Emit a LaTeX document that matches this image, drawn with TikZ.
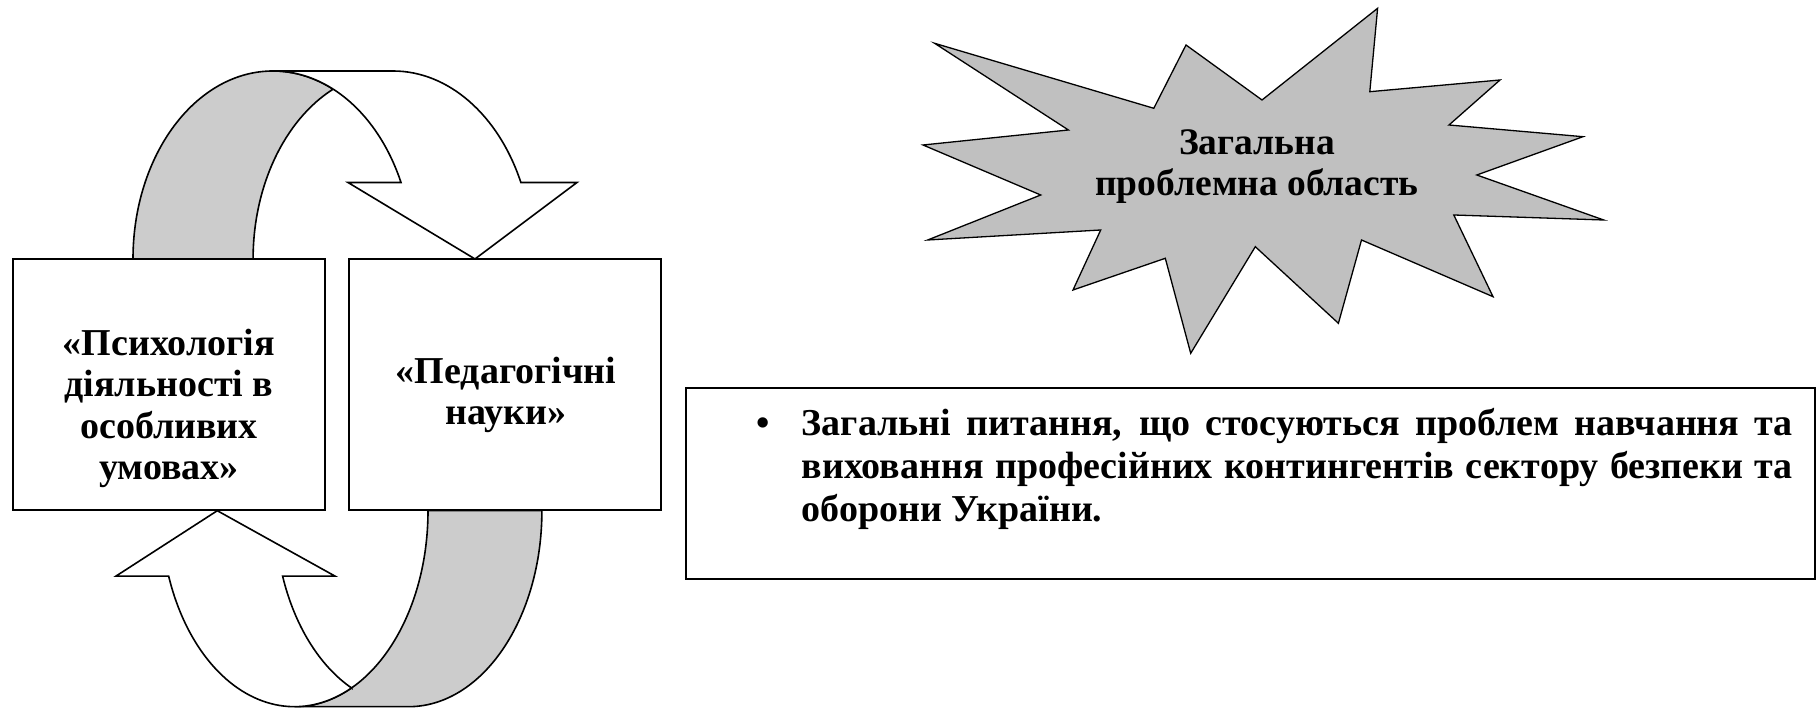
\documentclass[tikz,border=0pt]{standalone}
\usepackage{fontspec}
\setmainfont{Liberation Serif}
\definecolor{bandgray}{HTML}{CCCCCC}
\definecolor{stargray}{HTML}{C0C0C0}
\begin{document}
\begin{tikzpicture}[x=1pt,y=1pt,
  outline/.style={draw=black, line width=1.6pt, line join=miter},
  frame/.style={outline, fill=white, inner sep=0pt},
  boxtext/.style={font=\bfseries\fontsize{38}{41.5}\selectfont, align=center, inner sep=0pt},
  startext/.style={font=\bfseries\fontsize{37.5}{41.5}\selectfont, align=center, inner sep=0pt},
  bodytext/.style={font=\bfseries\fontsize{38}{43}\selectfont, inner sep=0pt}]
\useasboundingbox (0,0) rectangle (1818,709);

% ---- upper curved arrow (from left box to right box)
\path[outline, fill=bandgray] (133,450)
  arc[start angle=180, end angle=64.6, x radius=140, y radius=188]
  arc[start angle=115.4, end angle=180, x radius=140, y radius=188] -- cycle;
\path[outline, fill=white] (273,638) -- (393,638)
  arc[start angle=90, end angle=24, x radius=140, y radius=188]
  -- (577,526.5) -- (475,450) -- (348,526.5) -- (401,526.5)
  arc[start angle=24, end angle=90, x radius=140, y radius=188] -- cycle;

% ---- lower curved arrow (from right box to left box)
\path[outline, fill=bandgray] (541.9,198.3)
  arc[start angle=0, end angle=-90, x radius=133.5, y radius=196]
  -- (294.5,2.3)
  arc[start angle=-90, end angle=0, x radius=133.5, y radius=196] -- cycle;
\path[outline, fill=white] (351.76,21.25)
  arc[start angle=-64.6, end angle=-160.5, x radius=133.5, y radius=196]
  -- (116,132.9) -- (217.3,198.3) -- (335,132.9) -- (282.6,132.9)
  arc[start angle=-160.5, end angle=-115.1, x radius=133.5, y radius=196] -- cycle;

% ---- boxes
\node[frame, minimum width=312pt, minimum height=251pt] (psy) at (169,324.5) {};
\node[frame, minimum width=312pt, minimum height=251pt] (ped) at (505,324.5) {};
\node[boxtext, anchor=base] (psytext) at (169,229) {«Психологія\\діяльності в\\особливих\\умовах»};
\node[boxtext, anchor=base] (pedtext) at (506,284) {«Педагогічні\\науки»};

% ---- starburst
\path[outline, line width=1.3pt, fill=stargray]
  (934.6,665.7) -- (1153.8,600.7) -- (1186,664) -- (1262,609) -- (1377.6,700.7)
  -- (1369.8,617.3) -- (1500,629) -- (1449,584) -- (1583,572.3) -- (1476.8,534)
  -- (1603.7,489) -- (1453.8,494) -- (1493,412.3) -- (1361.5,469) -- (1338.4,385.7)
  -- (1255.3,462.3) -- (1190.7,355.7) -- (1165.3,450.7) -- (1073,419) -- (1100.7,479)
  -- (927.7,469) -- (1040.7,514) -- (923,564) -- (1068.4,579) -- cycle;
\node[startext, anchor=base] (star) at (1257,513) {Загальна\\проблемна область};

% ---- text box
\node[frame, minimum width=1129pt, minimum height=191pt] (area) at (1250.5,225.5) {};
\node[bodytext, anchor=base] (bul) at (763.5,273) {•};
\node[bodytext, anchor=base west, text width=991pt, align=justify] (areatext) at (801.7,273)
  {Загальні питання, що стосуються проблем навчання та\linebreak виховання професійних контингентів сектору безпеки та\linebreak оборони України.};
\end{tikzpicture}
\end{document}
